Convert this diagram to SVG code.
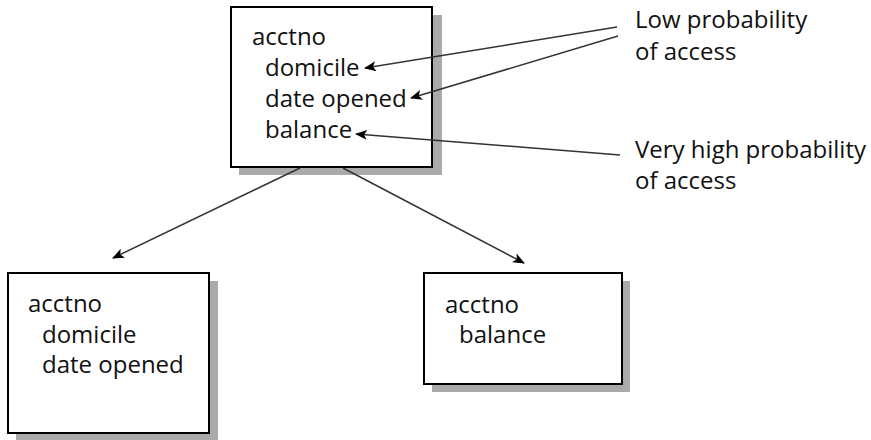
<svg xmlns="http://www.w3.org/2000/svg" width="871" height="440" viewBox="0 0 871 440">
<defs>
<style>
.box{fill:#fff;stroke:#000;stroke-width:2}
.shadow{fill:#aaa}
.t{font-family:"Open Sans","Noto Sans",sans-serif;font-size:24px;fill:#111}
.ln{stroke:#333;stroke-width:1.5;fill:none;marker-end:url(#ah)}
</style>
<marker id="ah" viewBox="0 0 12 10" refX="11" refY="5" markerWidth="12" markerHeight="10" markerUnits="userSpaceOnUse" orient="auto">
<path d="M0,0 L12,5 L0,10 L3,5 Z" fill="#000"/>
</marker>
</defs>
<rect width="871" height="440" fill="#fff"/>
<g id="top">
<rect class="shadow" x="239" y="15" width="203" height="160"/>
<rect class="box" x="231" y="7" width="201" height="160"/>
<text class="t" x="252" y="45">acctno</text>
<text class="t" x="265" y="76">domicile</text>
<text class="t" x="265" y="107">date opened</text>
<text class="t" x="265" y="138">balance</text>
</g>
<g id="left">
<rect class="shadow" x="16" y="281" width="202" height="160"/>
<rect class="box" x="8" y="273" width="201" height="160"/>
<text class="t" x="28" y="312">acctno</text>
<text class="t" x="42" y="343">domicile</text>
<text class="t" x="42" y="373">date opened</text>
</g>
<g id="right">
<rect class="shadow" x="432" y="281" width="198" height="111"/>
<rect class="box" x="424" y="273" width="198" height="111"/>
<text class="t" x="445" y="313">acctno</text>
<text class="t" x="459" y="343">balance</text>
</g>
<g id="low">
<text class="t" x="635" y="28">Low probability</text>
<text class="t" x="635" y="60">of access</text>
</g>
<g id="high">
<text class="t" x="635" y="158">Very high probability</text>
<text class="t" x="635" y="189">of access</text>
</g>
<g id="connectors">
<line class="ln" x1="617" y1="27" x2="365" y2="68"/>
<line class="ln" x1="618" y1="36" x2="411" y2="98"/>
<line class="ln" x1="620" y1="155" x2="356" y2="134"/>
<line class="ln" x1="300" y1="168" x2="113" y2="258"/>
<line class="ln" x1="343" y1="168" x2="524" y2="263"/>
</g>
</svg>
